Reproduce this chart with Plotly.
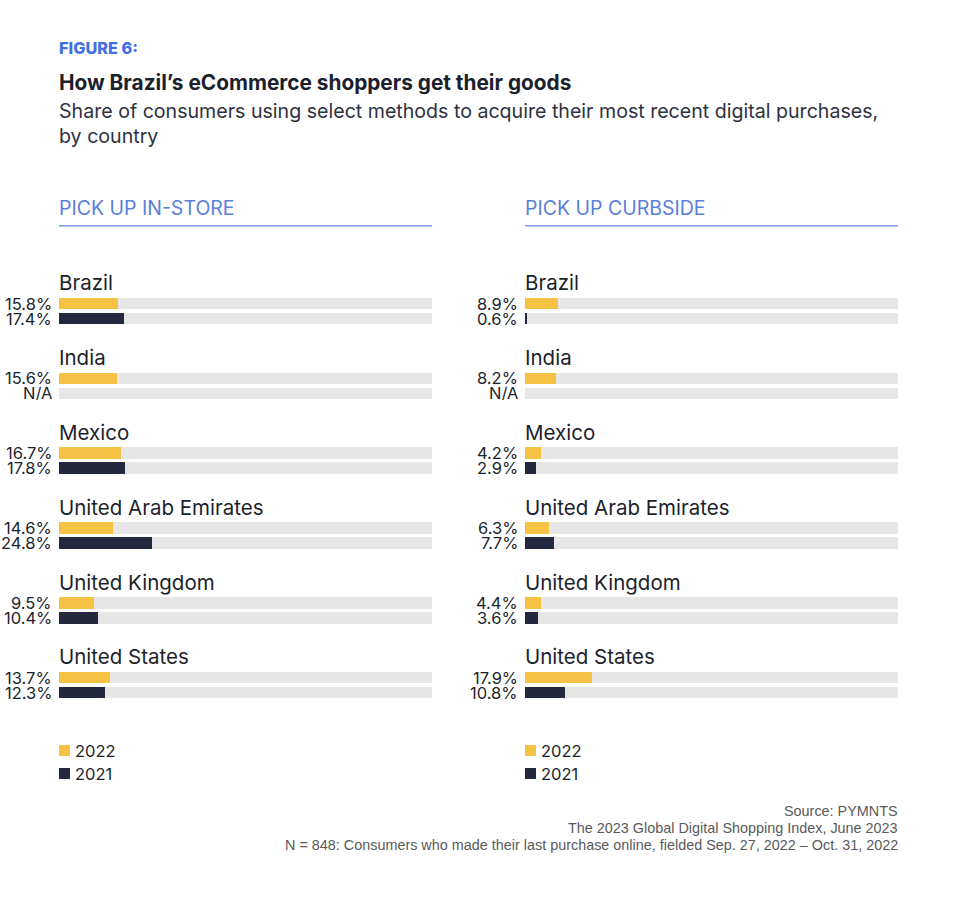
import plotly.graph_objects as go

countries = ["Brazil", "India", "Mexico", "United Arab Emirates", "United Kingdom", "United States"]
instore_2022 = [15.8, 15.6, 16.7, 14.6, 9.5, 13.7]
instore_2021 = [17.4, None, 17.8, 24.8, 10.4, 12.3]
curbside_2022 = [8.9, 8.2, 4.2, 6.3, 4.4, 17.9]
curbside_2021 = [0.6, None, 2.9, 7.7, 3.6, 10.8]
panel_titles = ["PICK UP IN-STORE", "PICK UP CURBSIDE"]
years = ["2022", "2021"]

YELLOW = "#F6C243"
NAVY = "#24283F"
TRACK = "#E6E6E6"
DARK = "#1C1F2C"
FONT = "Inter, Roboto, sans-serif"

FW, FH = 958, 920


def px_x(px):
    return px / FW


def px_y(py):
    return 1 - py / FH


STEP = 74.8          # px between country groups
CENTER0 = 311.0      # px of first group centre
OFF = 7.5 / STEP     # half distance between the two bars
BW = 11.6 / STEP     # bar thickness

fig = go.Figure()

panels = [(instore_2022, instore_2021), (curbside_2022, curbside_2021)]
panel_px = [(59, 432), (525, 898)]
xdomains = [[px_x(a), px_x(b)] for a, b in panel_px]

idx = list(range(len(countries)))
y22 = [i - OFF for i in idx]
y21 = [i + OFF for i in idx]

for p, (v22, v21) in enumerate(panels):
    xa = "x" if p == 0 else "x2"
    # grey tracks (100%)
    fig.add_trace(go.Bar(x=[100] * (2 * len(idx)), y=y22 + y21, orientation="h",
                         width=BW, marker=dict(color=TRACK, line=dict(width=0)),
                         xaxis=xa, yaxis="y", showlegend=False, hoverinfo="skip"))
    fig.add_trace(go.Bar(x=v22, y=y22, orientation="h", width=BW, name=years[0],
                         marker=dict(color=YELLOW, line=dict(width=0)),
                         xaxis=xa, yaxis="y", showlegend=False))
    fig.add_trace(go.Bar(x=v21, y=y21, orientation="h", width=BW, name=years[1],
                         marker=dict(color=NAVY, line=dict(width=0)),
                         xaxis=xa, yaxis="y", showlegend=False))
    # value labels and country names
    for i in idx:
        for yy, v in ((y22[i], v22[i]), (y21[i], v21[i])):
            fig.add_annotation(x=0, y=yy, xref=xa, yref="y", xanchor="right", yanchor="middle",
                               xshift=-5, height=14, valign="middle",
                               text="N/A" if v is None else f"{v:.1f}%",
                               showarrow=False, font=dict(family=FONT, size=16.5, color=DARK))
        fig.add_annotation(x=0, y=i - 0.375, xref=xa, yref="y", xanchor="left", yanchor="middle",
                           xshift=-2, text=countries[i], showarrow=False,
                           font=dict(family=FONT, size=20.5, color=DARK))
    # panel header and rule
    x0, x1 = xdomains[p]
    fig.add_annotation(x=x0, y=px_y(208), xref="paper", yref="paper", xanchor="left", yanchor="middle",
                       xshift=-2, text=panel_titles[p], showarrow=False,
                       font=dict(family=FONT, size=19.5, color="#5A80DC"))
    fig.add_shape(type="line", xref="paper", yref="paper", x0=x0, x1=x1,
                  y0=px_y(225.7), y1=px_y(225.7), line=dict(color="#7F9DE6", width=1.5))
    # legend (swatch + label)
    for k, (yr, col) in enumerate(zip(years, [YELLOW, NAVY])):
        cy = 750.5 + 23 * k
        sx = panel_px[p][0]
        fig.add_shape(type="rect", xref="paper", yref="paper", x0=px_x(sx), x1=px_x(sx + 11),
                      y0=px_y(cy - 5.5), y1=px_y(cy + 5.5), fillcolor=col, line=dict(width=0))
        fig.add_annotation(x=px_x(sx + 14), y=px_y(cy), xref="paper", yref="paper",
                           xanchor="left", yanchor="middle", text=yr, showarrow=False,
                           font=dict(family=FONT, size=16.5, color=DARK))

# titles
fig.add_annotation(x=px_x(59), y=px_y(48), xref="paper", yref="paper", xanchor="left", yanchor="middle",
                   xshift=-2, text="FIGURE 6:", showarrow=False,
                   font=dict(family=FONT, size=16.3, color="#3F6FE2", weight=800))
fig.add_annotation(x=px_x(59), y=px_y(82), xref="paper", yref="paper", xanchor="left", yanchor="middle",
                   xshift=-2, text="<b>How Brazil’s eCommerce shoppers get their goods</b>", showarrow=False,
                   font=dict(family=FONT, size=20.8, color=DARK))
fig.add_annotation(x=px_x(59), y=px_y(123.5), xref="paper", yref="paper", xanchor="left", yanchor="middle",
                   xshift=-2, align="left",
                   text="Share of consumers using select methods to acquire their most recent digital purchases,<br>by country",
                   showarrow=False, font=dict(family=FONT, size=19.6, color="#2E3140"))

# footer
footer = ["Source: PYMNTS",
          "The 2023 Global Digital Shopping Index, June 2023",
          "N = 848: Consumers who made their last purchase online, fielded Sep. 27, 2022 – Oct. 31, 2022"]
for k, t in enumerate(footer):
    fig.add_annotation(x=px_x(898), y=px_y(811 + 17 * k), xref="paper", yref="paper",
                       xanchor="right", yanchor="middle", xshift=2, text=t, showarrow=False,
                       font=dict(family="Liberation Sans, Arial, sans-serif", size=14.4, color="#5A5A5A"))

yrange = [(FH - CENTER0) / STEP, (0 - CENTER0) / STEP]
fig.update_layout(
    width=FW, height=FH, margin=dict(l=0, r=0, t=0, b=0),
    paper_bgcolor="white", plot_bgcolor="white",
    barmode="overlay", bargap=0, showlegend=False,
    xaxis=dict(domain=xdomains[0], range=[0, 100], visible=False, fixedrange=True),
    xaxis2=dict(domain=xdomains[1], range=[0, 100], visible=False, fixedrange=True),
    yaxis=dict(domain=[0, 1], range=yrange, visible=False, fixedrange=True),
)

fig.write_html("out.html", config={"displayModeBar": False},
               post_script="document.body.style.margin='0';document.body.style.overflow='hidden';")
